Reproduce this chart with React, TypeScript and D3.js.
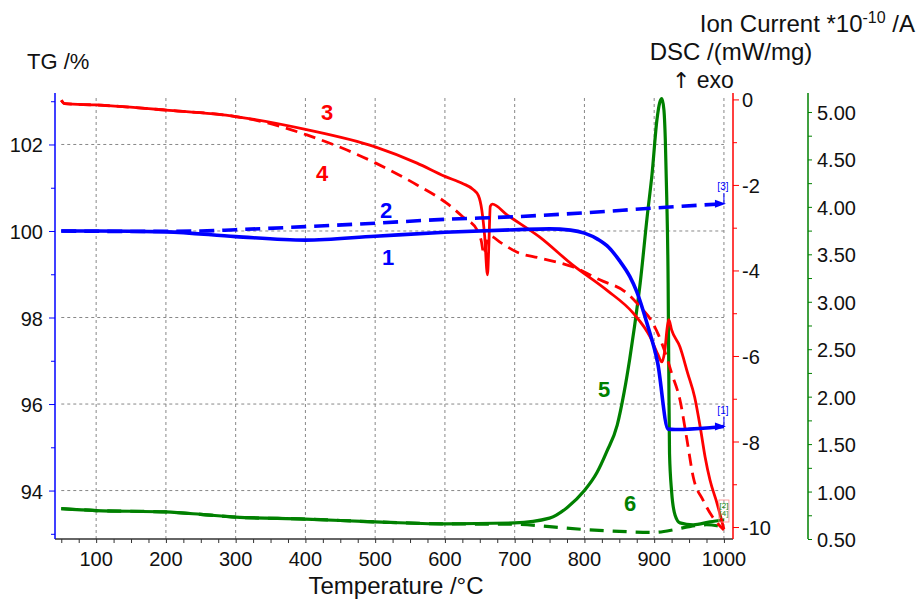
import React, { useEffect, useRef } from 'react';
import * as d3 from 'd3';

// temperature ticks and axis ticks
const tempTicks = [100, 200, 300, 400, 500, 600, 700, 800, 900, 1000];
const tgTicks = [94, 96, 98, 100, 102];
const dscTicks = [0, -2, -4, -6, -8, -10];
const ionTicks = [0.5, 1.0, 1.5, 2.0, 2.5, 3.0, 3.5, 4.0, 4.5, 5.0];

// curve 1 - TG solid [T, %]
const tg1 = [
  [50, 100.0], [100, 100.0], [200, 99.98], [300, 99.87], [400, 99.79], [500, 99.88],
  [600, 99.97], [700, 100.03], [750, 100.05], [780, 100.02], [800, 99.95], [820, 99.8],
  [835, 99.62], [850, 99.32], [865, 98.95], [875, 98.6], [890, 97.85], [905, 96.95],
  [920, 95.42], [930, 95.41], [950, 95.42], [980, 95.45], [1000, 95.48],
];

// curve 2 - TG dashed
const tg2 = [
  [50, 100.0], [150, 99.99], [250, 100.0], [300, 100.03], [400, 100.1], [500, 100.18],
  [600, 100.27], [700, 100.33], [800, 100.42], [900, 100.53], [1000, 100.63],
];

// curve 3 - DSC solid [T, mW/mg]
const dsc3 = [
  [50, -0.02], [55, -0.1], [100, -0.13], [200, -0.25], [300, -0.4], [400, -0.7],
  [500, -1.11], [560, -1.49], [600, -1.8], [626, -1.97], [640, -2.1], [648, -2.25],
  [653, -2.6], [657, -3.2], [661, -4.1], [663, -3.4], [665, -2.5], [668, -2.45],
  [689, -2.7], [736, -3.22], [783, -3.87], [832, -4.46], [870, -5.0], [894, -5.55],
  [905, -5.95], [911, -6.14], [915, -5.9], [919, -5.3], [921, -5.15], [925, -5.39],
  [937, -5.79], [948, -6.4], [958, -6.96], [966, -7.66], [973, -8.36], [980, -8.9],
  [990, -9.44], [1000, -10.05],
];

// curve 4 - DSC dashed
const dsc4 = [
  [50, -0.02], [55, -0.1], [100, -0.13], [200, -0.25], [300, -0.4], [321, -0.46],
  [402, -0.83], [501, -1.49], [560, -2.0], [602, -2.42], [626, -2.75], [646, -3.05],
  [652, -3.3], [656, -3.62], [660, -3.35], [665, -3.2], [680, -3.35], [703, -3.57],
  [736, -3.71], [784, -3.92], [822, -4.22], [861, -4.53], [880, -4.85], [898, -5.23],
  [906, -5.5], [916, -5.93], [925, -6.4], [937, -7.03], [947, -7.96], [956, -8.83],
  [970, -9.37], [984, -9.77], [1000, -10.07],
];

// curve 5 - ion current solid [T, 1e-10 A]
const ion5 = [
  [50, 0.82], [100, 0.8], [200, 0.785], [250, 0.76], [300, 0.73], [400, 0.71],
  [500, 0.68], [600, 0.66], [700, 0.67], [750, 0.72], [775, 0.83], [800, 1.01],
  [818, 1.2], [832, 1.42], [847, 1.7], [857, 2.05], [865, 2.4], [872, 2.75],
  [880, 3.2], [890, 3.9], [897, 4.35], [904, 4.92], [908, 5.1], [911, 5.14],
  [914, 5.02], [916, 4.7], [918, 4.1], [920, 3.2], [921, 2.2], [922, 1.4],
  [925, 1.0], [930, 0.75], [937, 0.67], [956, 0.65], [980, 0.68], [1000, 0.7],
];

// curve 6 - ion current dashed
const ion6 = [
  [50, 0.82], [100, 0.8], [200, 0.785], [250, 0.76], [300, 0.73], [400, 0.71],
  [500, 0.68], [600, 0.66], [700, 0.655], [750, 0.63], [800, 0.6], [850, 0.58],
  [900, 0.57], [930, 0.6], [950, 0.63], [975, 0.65], [990, 0.64], [1000, 0.6],
];

const BLUE = '#0000ff';
const RED = '#ff0000';
const GREEN = '#008000';
const FONT = "'Liberation Sans', Arial, sans-serif";

const App = () => {
  const svgRef = useRef<SVGSVGElement>(null);

  useEffect(() => {
    document.body.style.margin = '0';
    const svg = d3.select(svgRef.current);
    svg.selectAll('*').remove();

    const top = 93;
    const bottom = 539;
    const left = 55;
    const right = 733;
    const ionX = 808;

    const x = d3.scaleLinear().domain([41, 1013]).range([left, right]);
    const yTG = d3.scaleLinear().domain([92.88, 103.19]).range([bottom, top]);
    const yDSC = d3.scaleLinear().domain([-10.28, 0.15]).range([bottom, top]);
    const yIon = d3.scaleLinear().domain([0.5, 5.2]).range([bottom, top]);

    // Grid
    const grid = svg.append('g');
    grid.selectAll('.vg')
      .data(tempTicks)
      .enter()
      .append('line')
      .attr('x1', d => x(d)).attr('x2', d => x(d))
      .attr('y1', 98).attr('y2', bottom)
      .style('stroke', '#888').style('stroke-dasharray', '3,3').style('stroke-width', 1);
    grid.selectAll('.hg')
      .data(tgTicks)
      .enter()
      .append('line')
      .attr('x1', x(50)).attr('x2', x(1000))
      .attr('y1', d => yTG(d)).attr('y2', d => yTG(d))
      .style('stroke', '#888').style('stroke-dasharray', '3,3').style('stroke-width', 1);

    // Bottom axis
    const xAxis = svg.append('g').attr('transform', `translate(0, ${bottom})`)
      .call(d3.axisBottom(x).tickValues(d3.range(50, 1001, 25)).tickSize(4).tickFormat(() => ''));
    xAxis.select('.domain').remove();
    xAxis.selectAll('line').style('stroke', '#333');
    svg.append('line')
      .attr('x1', left).attr('x2', right).attr('y1', bottom).attr('y2', bottom)
      .style('stroke', '#333').style('stroke-width', 1.5);
    svg.append('g').selectAll('text')
      .data(tempTicks)
      .enter()
      .append('text')
      .attr('x', d => x(d)).attr('y', 566)
      .attr('text-anchor', 'middle')
      .style('font-family', FONT).style('font-size', '20px').style('fill', '#111')
      .text(d => d);

    // Left TG axis
    const tgAxis = svg.append('g').attr('transform', `translate(${left}, 0)`)
      .call(d3.axisLeft(yTG).tickValues(d3.range(93, 104, 1)).tickSize(4).tickFormat(() => ''));
    tgAxis.select('.domain').remove();
    tgAxis.selectAll('line').style('stroke', BLUE);
    tgAxis.selectAll('.tick')
      .filter((d: any) => d % 2 === 0)
      .select('line').attr('x2', -6);
    svg.append('line')
      .attr('x1', left).attr('x2', left).attr('y1', top).attr('y2', bottom)
      .style('stroke', BLUE).style('stroke-width', 1.5);
    svg.append('g').selectAll('text')
      .data(tgTicks)
      .enter()
      .append('text')
      .attr('x', 43).attr('y', d => yTG(d) + 8)
      .attr('text-anchor', 'end')
      .style('font-family', FONT).style('font-size', '20px').style('fill', '#111')
      .text(d => d);

    // Right DSC axis
    const dscAxis = svg.append('g').attr('transform', `translate(${right}, 0)`)
      .call(d3.axisRight(yDSC).tickValues(d3.range(-10, 0.5, 1)).tickSize(4).tickFormat(() => ''));
    dscAxis.select('.domain').remove();
    dscAxis.selectAll('line').style('stroke', RED);
    dscAxis.selectAll('.tick')
      .filter((d: any) => d % 2 === 0)
      .select('line').attr('x2', 6);
    svg.append('line')
      .attr('x1', right).attr('x2', right).attr('y1', top).attr('y2', bottom)
      .style('stroke', RED).style('stroke-width', 1.5);
    svg.append('g').selectAll('text')
      .data(dscTicks)
      .enter()
      .append('text')
      .attr('x', 742).attr('y', d => yDSC(d) + 8)
      .style('font-family', FONT).style('font-size', '20px').style('fill', '#111')
      .text(d => (d < 0 ? '-' + Math.abs(d) : d));

    // Right ion current axis
    const ionAxis = svg.append('g').attr('transform', `translate(${ionX}, 0)`)
      .call(d3.axisRight(yIon).tickValues(d3.range(0.5, 5.01, 0.25)).tickSize(4).tickFormat(() => ''));
    ionAxis.select('.domain').remove();
    ionAxis.selectAll('line').style('stroke', GREEN);
    svg.append('line')
      .attr('x1', ionX).attr('x2', ionX).attr('y1', top).attr('y2', bottom)
      .style('stroke', GREEN).style('stroke-width', 1.5);
    svg.append('g').selectAll('text')
      .data(ionTicks)
      .enter()
      .append('text')
      .attr('x', 817).attr('y', d => yIon(d) + 8)
      .style('font-family', FONT).style('font-size', '20px').style('fill', '#111')
      .text(d => d.toFixed(2));

    // Curves
    const drawCurve = (data: number[][], yScale: any, color: string, dash: string | null, width = 3) => {
      const line = d3.line<number[]>()
        .x(d => x(d[0]))
        .y(d => yScale(d[1]))
        .curve(d3.curveMonotoneX);
      svg.append('path')
        .datum(data)
        .attr('d', line)
        .style('fill', 'none')
        .style('stroke', color)
        .style('stroke-width', width)
        .style('stroke-linejoin', 'round')
        .style('stroke-dasharray', dash || 'none');
    };

    drawCurve(ion6, yIon, GREEN, '14,9', 3.2);
    drawCurve(ion5, yIon, GREEN, null, 3.2);
    drawCurve(dsc4, yDSC, RED, '12,7', 2.8);
    drawCurve(dsc3, yDSC, RED, null, 2.8);
    drawCurve(tg2, yTG, BLUE, '15,8', 3.6);
    drawCurve(tg1, yTG, BLUE, null, 3.6);

    // End markers
    const endMarker = (px: number, py: number, label: string, color: string, labelY: number) => {
      svg.append('path')
        .attr('d', `M${px - 9},${py - 4} L${px + 2},${py} L${px - 9},${py + 4} Z`)
        .style('fill', color);
      svg.append('line')
        .attr('x1', px).attr('x2', px).attr('y1', labelY + 3).attr('y2', py)
        .style('stroke', color).style('stroke-width', 1);
      svg.append('text')
        .attr('x', px - 1).attr('y', labelY)
        .attr('text-anchor', 'middle')
        .style('font-family', FONT).style('font-size', '10px').style('fill', color)
        .text(label);
    };
    const last1 = tg1[tg1.length - 1];
    const last2 = tg2[tg2.length - 1];
    endMarker(x(last1[0]), yTG(last1[1]), '[1]', BLUE, 414);
    endMarker(x(last2[0]), yTG(last2[1]), '[3]', BLUE, 190);

    const last5 = ion5[ion5.length - 1];
    svg.append('rect')
      .attr('x', x(last5[0]) - 5).attr('y', 500).attr('width', 10).attr('height', 22)
      .style('fill', 'none').style('stroke', '#f88').style('stroke-width', 0.8);
    svg.append('text')
      .attr('x', x(last5[0])).attr('y', 508)
      .attr('text-anchor', 'middle')
      .style('font-family', FONT).style('font-size', '8px').style('fill', GREEN)
      .text('[2]');
    svg.append('text')
      .attr('x', x(last5[0])).attr('y', 516)
      .attr('text-anchor', 'middle')
      .style('font-family', FONT).style('font-size', '8px').style('fill', '#3a9a3a')
      .text('[4]');

    // Curve number labels
    const numLabels = [
      { t: '1', x: 388, y: 265, c: BLUE },
      { t: '2', x: 386, y: 218, c: BLUE },
      { t: '3', x: 327, y: 120, c: RED },
      { t: '4', x: 322, y: 181, c: RED },
      { t: '5', x: 604, y: 397, c: GREEN },
      { t: '6', x: 630, y: 511, c: GREEN },
    ];
    svg.append('g').selectAll('text')
      .data(numLabels)
      .enter()
      .append('text')
      .attr('x', d => d.x).attr('y', d => d.y)
      .attr('text-anchor', 'middle')
      .style('font-family', FONT).style('font-size', '22px').style('font-weight', 'bold')
      .style('fill', d => d.c)
      .text(d => d.t);

    // Axis titles
    svg.append('text')
      .attr('x', 27).attr('y', 69)
      .style('font-family', FONT).style('font-size', '22px').style('fill', '#111')
      .text('TG /%');

    svg.append('text')
      .attr('x', 396).attr('y', 594)
      .attr('text-anchor', 'middle')
      .style('font-family', FONT).style('font-size', '24px').style('fill', '#111')
      .text('Temperature /°C');

    const ion = svg.append('text')
      .attr('x', 915).attr('y', 32)
      .attr('text-anchor', 'end')
      .style('font-family', FONT).style('font-size', '24px').style('fill', '#111');
    ion.append('tspan').text('Ion Current *10');
    ion.append('tspan').attr('dy', -9).style('font-size', '16px').text('-10');
    ion.append('tspan').attr('dy', 9).text(' /A');

    svg.append('text')
      .attr('x', 731).attr('y', 60)
      .attr('text-anchor', 'middle')
      .style('font-family', FONT).style('font-size', '24px').style('fill', '#111')
      .text('DSC /(mW/mg)');

    const exo = svg.append('text')
      .attr('x', 672).attr('y', 88)
      .style('font-family', FONT).style('font-size', '23px').style('fill', '#111');
    exo.append('tspan').style('font-family', "'DejaVu Sans', sans-serif").style('font-size', '22px').text('↑');
    exo.append('tspan').text(' exo');
  }, []);

  return (
    <svg ref={svgRef} width={918} height={599} style={{ display: 'block', background: '#fff' }}></svg>
  );
};

export default App;
